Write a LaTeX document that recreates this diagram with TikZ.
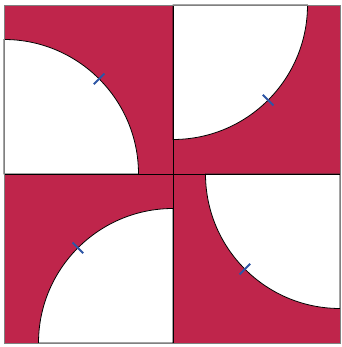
\documentclass[tikz,border=0pt]{standalone}
\usetikzlibrary{calc}
\definecolor{tilered}{RGB}{191,37,75}
\definecolor{markblue}{RGB}{45,85,165}

\tikzset{
  tilebox/.style={fill=tilered, draw=black, line width=0.8pt},
  hole/.style={fill=white, draw=black, line width=0.8pt},
  arcmark/.style={draw=markblue, line width=1.8pt}
}

\begin{document}
\begin{tikzpicture}[x=1pt,y=1pt]
  \useasboundingbox (0,0) rectangle (341,347);
  \def\r{134.5}

  % top left tile, disc from bottom left corner
  \fill[tilered] (4,173) rectangle (173,342);
  \path[hole] (4,173) -- (4+\r,173) arc[start angle=0, end angle=90, radius=\r] -- cycle;
  \coordinate (tl) at ($(4,173)+(45:\r)$);
  \draw[arcmark] ($(tl)+(45:-7.5)$) -- ($(tl)+(45:7.5)$);

  % top right tile, disc from top left corner
  \fill[tilered] (173,173) rectangle (340,342);
  \path[hole] (173,342) -- (173,342-\r) arc[start angle=-90, end angle=0, radius=\r] -- cycle;
  \coordinate (tr) at ($(173,342)+(-45:\r)$);
  \draw[arcmark] ($(tr)+(-45:-7.5)$) -- ($(tr)+(-45:7.5)$);

  % bottom left tile, disc from bottom right corner
  \fill[tilered] (4,4) rectangle (173,173);
  \path[hole] (173,4) -- (173,4+\r) arc[start angle=90, end angle=180, radius=\r] -- cycle;
  \coordinate (bl) at ($(173,4)+(135:\r)$);
  \draw[arcmark] ($(bl)+(135:-7.5)$) -- ($(bl)+(135:7.5)$);

  % bottom right tile, disc from top right corner
  \fill[tilered] (173,4) rectangle (340,173);
  \path[hole] (340,173) -- (340-\r,173) arc[start angle=180, end angle=270, radius=\r] -- cycle;
  \coordinate (br) at ($(340,173)+(225:\r)$);
  \draw[arcmark] ($(br)+(225:-7.5)$) -- ($(br)+(225:7.5)$);

  % tile borders
  \draw[black, line width=0.8pt] (4,173) -- (340,173) (173,4) -- (173,342);
  \draw[gray, line width=0.8pt] (4,4) rectangle (340,342);
\end{tikzpicture}
\end{document}
